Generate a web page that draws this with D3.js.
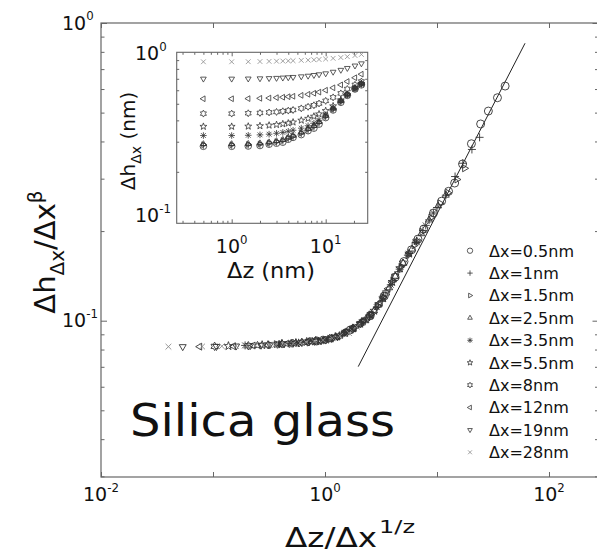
<!DOCTYPE html>
<html>
<head>
<meta charset="utf-8">
<script src="https://cdn.jsdelivr.net/npm/d3@7"></script>
<style>
  body { margin: 0; background: #fff; }
  text { font-family: "DejaVu Sans", "Liberation Sans", sans-serif; fill: #111; }
</style>
</head>
<body>
<div id="plot"></div>
<script>
// ---- data ----
const dxLabels = ["Δx=0.5nm", "Δx=1nm", "Δx=1.5nm", "Δx=2.5nm", "Δx=3.5nm",
                  "Δx=5.5nm", "Δx=8nm", "Δx=12nm", "Δx=19nm", "Δx=28nm"];
const dxValues = [0.5, 1, 1.5, 2.5, 3.5, 5.5, 8, 12, 19, 28];
const markerTypes = ["circle", "plus", "triRight", "triUp", "asterisk",
                     "star5", "star6", "triLeft", "triDown", "cross"];

// separation dz (nm), shared by every series
const dz = [0.5, 1, 1.5, 2, 2.5, 3, 3.5, 4, 4.5, 5.5, 6.5, 7.5, 8.5, 10, 12, 14.5, 17, 20.5, 24];
// 1/z exponent used for the collapse on the main x axis
const invZ = 0.758;

// inset: dh (nm) against dz, one array per dx
const insetH05 = [0.282, 0.282, 0.283, 0.285, 0.29, 0.294, 0.298, 0.31, 0.318, 0.33, 0.348, 0.36, 0.38, 0.415, 0.46, 0.51, 0.56, 0.61, 0.645];
const insetH1  = [0.285, 0.285, 0.286, 0.288, 0.292, 0.297, 0.302, 0.312, 0.32, 0.334, 0.35, 0.364, 0.384, 0.418, 0.462, 0.512, 0.562, 0.612, 0.648];
const insetH15 = [0.288, 0.288, 0.289, 0.291, 0.295, 0.3, 0.305, 0.315, 0.323, 0.337, 0.354, 0.368, 0.388, 0.422, 0.466, 0.515, 0.565, 0.615, 0.652];
const insetH25 = [0.291, 0.291, 0.292, 0.294, 0.298, 0.303, 0.308, 0.318, 0.326, 0.34, 0.358, 0.372, 0.392, 0.426, 0.47, 0.52, 0.57, 0.62, 0.656];
const insetH35 = [0.326, 0.326, 0.327, 0.329, 0.332, 0.336, 0.34, 0.345, 0.35, 0.36, 0.372, 0.385, 0.4, 0.43, 0.47, 0.52, 0.565, 0.615, 0.655];
const insetH55 = [0.368, 0.368, 0.369, 0.371, 0.374, 0.377, 0.381, 0.385, 0.39, 0.4, 0.41, 0.422, 0.435, 0.455, 0.485, 0.525, 0.565, 0.615, 0.655];
const insetH8  = [0.438, 0.438, 0.44, 0.442, 0.445, 0.448, 0.452, 0.456, 0.46, 0.47, 0.48, 0.49, 0.502, 0.52, 0.545, 0.575, 0.61, 0.645, 0.675];
const insetH12 = [0.535, 0.535, 0.536, 0.538, 0.54, 0.543, 0.546, 0.55, 0.553, 0.56, 0.568, 0.576, 0.585, 0.6, 0.62, 0.645, 0.675, 0.71, 0.745];
const insetH19 = [0.70, 0.70, 0.701, 0.703, 0.705, 0.707, 0.71, 0.713, 0.716, 0.722, 0.728, 0.735, 0.742, 0.752, 0.768, 0.788, 0.808, 0.835, 0.86];
const insetH28 = [0.88, 0.88, 0.881, 0.883, 0.885, 0.887, 0.889, 0.891, 0.893, 0.897, 0.90, 0.904, 0.908, 0.914, 0.922, 0.932, 0.943, 0.958, 0.972];

// main plot: dh/dx^beta, one array per dx
const mainY05 = [0.0855, 0.0932, 0.104, 0.121, 0.140, 0.158, 0.173, 0.188, 0.203, 0.230, 0.252, 0.272, 0.290, 0.336, 0.393, 0.458, 0.506, 0.561, 0.614];
const mainY1  = [0.0839, 0.0861, 0.0909, 0.0968, 0.103, 0.113, 0.124, 0.135, 0.146, 0.166, 0.183, 0.201, 0.218, 0.240, 0.264, 0.305, 0.338, 0.376, 0.413];
const mainY15 = [0.0834, 0.0849, 0.0870, 0.0905, 0.0948, 0.0997, 0.105, 0.112, 0.120, 0.136, 0.152, 0.166, 0.179, 0.199, 0.222, 0.248, 0.269, 0.298, 0.325];
const mainY25 = [0.0826, 0.0839, 0.0852, 0.0861, 0.0882, 0.0908, 0.0938, 0.0968, 0.100, 0.108, 0.118, 0.129, 0.141, 0.156, 0.174, 0.196, 0.218, 0.243, 0.264];
const mainY35 = [0.0826, 0.0834, 0.0843, 0.0853, 0.0860, 0.0875, 0.0890, 0.0915, 0.0938, 0.0986, 0.104, 0.111, 0.119, 0.132, 0.149, 0.168, 0.185, 0.209, 0.230];
const mainY55 = [0.0822, 0.0828, 0.0836, 0.0842, 0.0849, 0.0855, 0.0860, 0.0870, 0.0882, 0.0910, 0.0942, 0.0977, 0.101, 0.108, 0.119, 0.135, 0.150, 0.168, 0.185];
const mainY8  = [0.0820, 0.0824, 0.0830, 0.0836, 0.0840, 0.0846, 0.0851, 0.0855, 0.0859, 0.0873, 0.0889, 0.0916, 0.0939, 0.0978, 0.103, 0.113, 0.124, 0.141, 0.156];
const mainY12 = [0.0818, 0.0821, 0.0825, 0.0829, 0.0834, 0.0838, 0.0841, 0.0845, 0.0848, 0.0855, 0.0861, 0.0872, 0.0885, 0.0912, 0.0946, 0.0996, 0.105, 0.115, 0.128];
const mainY19 = [0.0818, 0.0819, 0.0822, 0.0824, 0.0827, 0.0830, 0.0833, 0.0836, 0.0838, 0.0843, 0.0847, 0.0852, 0.0858, 0.0866, 0.0884, 0.0916, 0.0946, 0.0996, 0.105];
const mainY28 = [0.0818, 0.0819, 0.0821, 0.0822, 0.0824, 0.0826, 0.0827, 0.0829, 0.0831, 0.0834, 0.0838, 0.0842, 0.0846, 0.0851, 0.0860, 0.0873, 0.0889, 0.0908, 0.0955];

// power-law guide line
const fitX = [1.98, 61.1];
const fitY = [0.0701, 0.855];

const insetH = [insetH05, insetH1, insetH15, insetH25, insetH35, insetH55, insetH8, insetH12, insetH19, insetH28];
const mainY = [mainY05, mainY1, mainY15, mainY25, mainY35, mainY55, mainY8, mainY12, mainY19, mainY28];

// ticks
const mainXTicks = [0.01, 0.1, 1, 10, 100];
const mainXLabelled = [0.01, 1, 100];
const mainYTicks = [0.1, 1];
const mainYMinor = [0.03, 0.04, 0.05, 0.06, 0.07, 0.08, 0.09, 0.2, 0.3, 0.4, 0.5, 0.6, 0.7, 0.8, 0.9];
const insetXTicks = [1, 10];
const insetXMinor = [0.3, 0.4, 0.5, 0.6, 0.7, 0.8, 0.9, 2, 3, 4, 5, 6, 7, 8, 9, 20];
const insetYTicks = [0.1, 1];
const insetYMinor = [0.2, 0.3, 0.4, 0.5, 0.6, 0.7, 0.8, 0.9];

// ---- layout ----
const w = 597, h = 553;
const main = {left: 101, right: 598.5, top: 23, bottom: 477};
const ins = {left: 176.7, right: 367.7, top: 52.3, bottom: 223.3};

const svg = d3.select("div#plot").append("svg")
  .attr("width", w).attr("height", h);

const x = d3.scaleLog().domain([0.01, 276.7]).range([main.left, main.right]);
const y = d3.scaleLog().domain([0.02985, 1]).range([main.bottom, main.top]);
const xi = d3.scaleLog().domain([0.26, 28.0]).range([ins.left, ins.right]);
const yi = d3.scaleLog().domain([0.1, 1]).range([ins.bottom, ins.top]);

// marker shapes (Matlab style)
function ring(n, rOut, rIn, start) {
  const pts = [];
  const m = rIn ? n * 2 : n;
  for (let i = 0; i < m; i++) {
    const r = (rIn && i % 2 === 1) ? rIn : rOut;
    const a = (start + i * 360 / m) * Math.PI / 180;
    pts.push([r * Math.cos(a), r * Math.sin(a)]);
  }
  return "M" + pts.map(p => p[0].toFixed(2) + "," + p[1].toFixed(2)).join("L") + "Z";
}
function markerPath(type, r) {
  const a = r * 0.72;
  switch (type) {
    case "circle": return `M${-r},0A${r},${r} 0 1,0 ${r},0A${r},${r} 0 1,0 ${-r},0Z`;
    case "plus": return `M${-r},0H${r}M0,${-r}V${r}`;
    case "cross": return `M${-a},${-a}L${a},${a}M${-a},${a}L${a},${-a}`;
    case "asterisk": return `M${-r},0H${r}M0,${-r}V${r}M${-a},${-a}L${a},${a}M${-a},${a}L${a},${-a}`;
    case "triUp": return ring(3, r, 0, -90);
    case "triDown": return ring(3, r, 0, 90);
    case "triRight": return ring(3, r, 0, 0);
    case "triLeft": return ring(3, r, 0, 180);
    case "star5": return ring(5, r * 1.1, r * 0.45, -90);
    case "star6": return ring(6, r * 1.05, r * 0.6, -90);
  }
}
function markerColor(k) { return markerTypes[k] === "cross" ? "#8c8c8c" : "#333"; }

function powLabel(g, px, py, exp, size, anchor) {
  const t = g.append("text").attr("x", px).attr("y", py)
    .attr("text-anchor", anchor).style("font-size", size + "px");
  t.append("tspan").text("10");
  t.append("tspan").attr("dy", -size * 0.5).style("font-size", (size * 0.62) + "px").text(exp);
}

// ---- main axes ----
const gMain = svg.append("g");
gMain.append("g").attr("transform", `translate(0,${main.bottom})`)
  .call(d3.axisBottom(x).tickValues(mainXTicks).tickSize(-5).tickFormat(""));
gMain.append("g").attr("transform", `translate(0,${main.top})`)
  .call(d3.axisTop(x).tickValues(mainXTicks).tickSize(-5).tickFormat(""));
gMain.append("g").attr("transform", `translate(${main.left},0)`)
  .call(d3.axisLeft(y).tickValues(mainYTicks).tickSize(-6).tickFormat(""));
gMain.append("g").attr("transform", `translate(${main.left},0)`)
  .call(d3.axisLeft(y).tickValues(mainYMinor).tickSize(-3.5).tickFormat(""));
gMain.append("g").attr("transform", `translate(${main.right},0)`)
  .call(d3.axisRight(y).tickValues(mainYTicks).tickSize(-6).tickFormat(""));
gMain.append("g").attr("transform", `translate(${main.right},0)`)
  .call(d3.axisRight(y).tickValues(mainYMinor).tickSize(-3.5).tickFormat(""));
gMain.selectAll(".domain").remove();
gMain.selectAll(".tick line").attr("stroke", "#666");
gMain.append("rect")
  .attr("x", main.left).attr("y", main.top)
  .attr("width", main.right - main.left).attr("height", main.bottom - main.top)
  .attr("fill", "none").attr("stroke", "#666").attr("stroke-width", 1.2);

mainXLabelled.forEach(v => powLabel(svg, x(v), 501, Math.round(Math.log10(v)), 19, "middle"));
mainYTicks.forEach(v => powLabel(svg, 62, y(v) + 6.8, Math.round(Math.log10(v)), 19, "start"));

// main x label
svg.append("text").attr("x", 285).attr("y", 546.7).attr("textLength", 92)
  .attr("lengthAdjust", "spacingAndGlyphs").style("font-size", "26px").text("Δz/Δx");
svg.append("text").attr("x", 379).attr("y", 533).attr("textLength", 36)
  .attr("lengthAdjust", "spacingAndGlyphs").style("font-size", "18px").text("1/z");

// main y label
const yl = svg.append("text")
  .attr("transform", "translate(55,252) rotate(-90)")
  .attr("text-anchor", "middle").style("font-size", "29px");
yl.append("tspan").text("Δh");
yl.append("tspan").attr("dy", 9).style("font-size", "20px").text("Δx");
yl.append("tspan").attr("dy", -9).text("/Δx");
yl.append("tspan").attr("dy", -13).style("font-size", "20px").text("β");

// guide line
svg.append("line")
  .attr("x1", x(fitX[0])).attr("y1", y(fitY[0]))
  .attr("x2", x(fitX[1])).attr("y2", y(fitY[1]))
  .attr("stroke", "#222").attr("stroke-width", 1);

// main collapsed data
mainY.forEach((ys, k) => {
  const f = Math.pow(dxValues[k], invZ);
  svg.append("g").selectAll("path")
    .data(ys.map((v, i) => [dz[i] / f, v]))
    .enter().append("path")
      .attr("transform", d => `translate(${x(d[0])},${y(d[1])})`)
      .attr("d", markerPath(markerTypes[k], 4))
      .attr("fill", "none")
      .attr("stroke", markerColor(k))
      .attr("stroke-width", 0.9);
});

// "Silica glass"
svg.append("text").attr("x", 130).attr("y", 436)
  .attr("textLength", 265).attr("lengthAdjust", "spacingAndGlyphs")
  .style("font-family", "'Comic Sans MS', 'DejaVu Sans', sans-serif")
  .style("font-size", "44px").text("Silica glass");

// legend
const legend = svg.append("g");
dxLabels.forEach((lab, k) => {
  const ly = 250.7 + k * 22.4;
  legend.append("path")
    .attr("transform", `translate(470,${ly})`)
    .attr("d", markerPath(markerTypes[k], 2.7))
    .attr("fill", "none").attr("stroke", markerColor(k)).attr("stroke-width", 0.8);
  legend.append("text").attr("x", 489).attr("y", ly + 5.8)
    .style("font-size", "16px").text(lab);
});

// ---- inset ----
const gIn = svg.append("g");
gIn.append("rect")
  .attr("x", ins.left).attr("y", ins.top)
  .attr("width", ins.right - ins.left).attr("height", ins.bottom - ins.top)
  .attr("fill", "#fff");
gIn.append("g").attr("transform", `translate(0,${ins.bottom})`)
  .call(d3.axisBottom(xi).tickValues(insetXTicks).tickSize(-4).tickFormat(""));
gIn.append("g").attr("transform", `translate(0,${ins.bottom})`)
  .call(d3.axisBottom(xi).tickValues(insetXMinor).tickSize(-2.5).tickFormat(""));
gIn.append("g").attr("transform", `translate(0,${ins.top})`)
  .call(d3.axisTop(xi).tickValues(insetXTicks).tickSize(-4).tickFormat(""));
gIn.append("g").attr("transform", `translate(0,${ins.top})`)
  .call(d3.axisTop(xi).tickValues(insetXMinor).tickSize(-2.5).tickFormat(""));
gIn.append("g").attr("transform", `translate(${ins.left},0)`)
  .call(d3.axisLeft(yi).tickValues(insetYMinor).tickSize(-2.5).tickFormat(""));
gIn.append("g").attr("transform", `translate(${ins.right},0)`)
  .call(d3.axisRight(yi).tickValues(insetYMinor).tickSize(-2.5).tickFormat(""));
gIn.selectAll(".domain").remove();
gIn.selectAll(".tick line").attr("stroke", "#666");
gIn.append("rect")
  .attr("x", ins.left).attr("y", ins.top)
  .attr("width", ins.right - ins.left).attr("height", ins.bottom - ins.top)
  .attr("fill", "none").attr("stroke", "#666").attr("stroke-width", 1.1);

insetH.forEach((hs, k) => {
  gIn.append("g").selectAll("path")
    .data(hs.map((v, i) => [dz[i], v]))
    .enter().append("path")
      .attr("transform", d => `translate(${xi(d[0])},${yi(d[1])})`)
      .attr("d", markerPath(markerTypes[k], 3.3))
      .attr("fill", "none")
      .attr("stroke", markerColor(k))
      .attr("stroke-width", 0.8);
});

insetXTicks.forEach(v => powLabel(svg, xi(v), 253, Math.round(Math.log10(v)), 19, "middle"));
powLabel(svg, 135, 60, 0, 19, "start");
powLabel(svg, 135, 222, -1, 19, "start");

svg.append("text").attr("x", 227).attr("y", 278).attr("textLength", 88)
  .attr("lengthAdjust", "spacingAndGlyphs").style("font-size", "21px").text("Δz (nm)");

const yli = svg.append("text")
  .attr("transform", "translate(135,141) rotate(-90)")
  .attr("text-anchor", "middle").style("font-size", "20px");
yli.append("tspan").text("Δh");
yli.append("tspan").attr("dy", 6).style("font-size", "14px").text("Δx");
yli.append("tspan").attr("dy", -6).text(" (nm)");
</script>
</body>
</html>
